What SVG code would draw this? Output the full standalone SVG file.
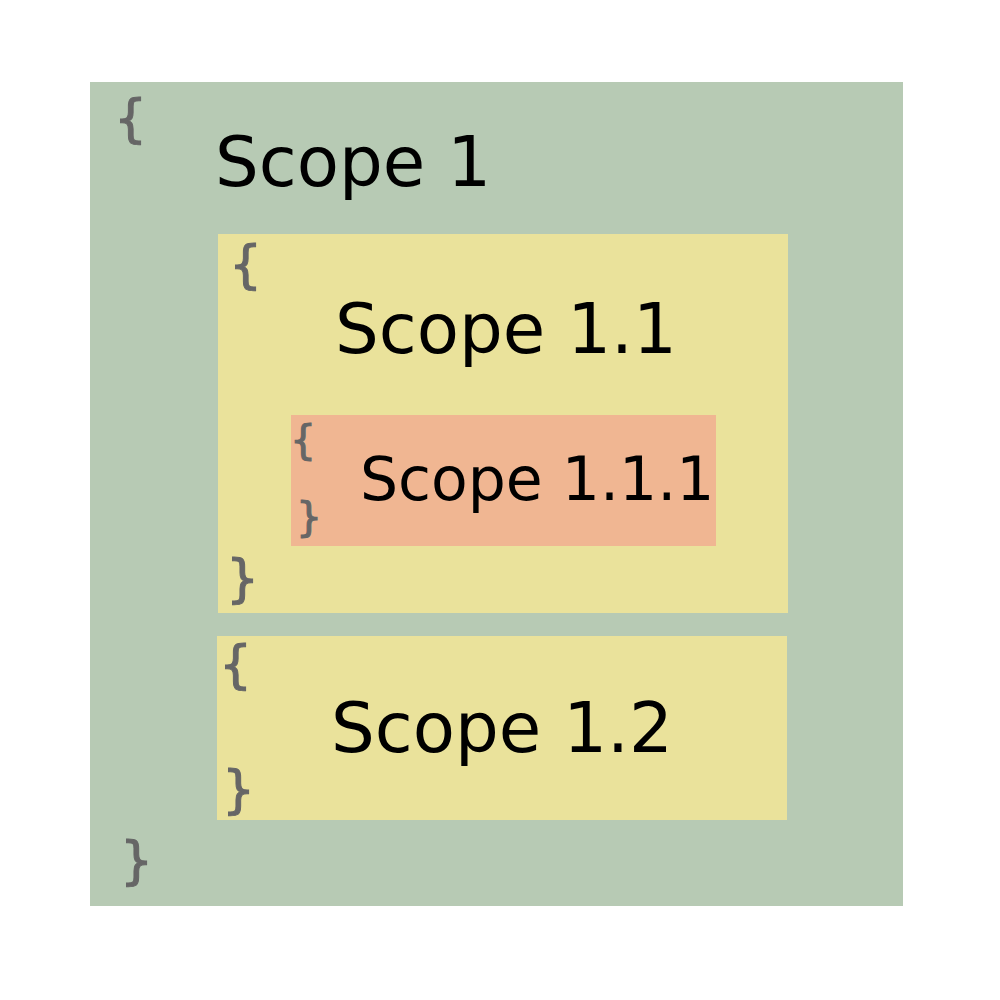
<svg xmlns="http://www.w3.org/2000/svg" width="1000" height="1000" viewBox="0 0 1000 1000">
<style>
.t{font-family:"DejaVu Sans",sans-serif;fill:#000}
.b{font-family:"DejaVu Sans",sans-serif;fill:#666;stroke:#666;stroke-width:1}
</style>
<rect width="1000" height="1000" fill="#fff"/>
<g id="scope1">
<rect x="90" y="82" width="813" height="824" fill="#b7cab4"/>
<text class="b" x="114" y="136" font-size="52">{</text>
<text class="t" x="215" y="186" font-size="69">Scope 1</text>
<text class="b" x="120" y="878" font-size="52">}</text>
</g>
<g id="scope1_1">
<rect x="218" y="234" width="570" height="379" fill="#eae29b"/>
<text class="b" x="229" y="282" font-size="52">{</text>
<text class="t" x="335" y="353" font-size="69">Scope 1.1</text>
<text class="b" x="226" y="596" font-size="52">}</text>
</g>
<g id="scope1_1_1">
<rect x="291" y="415" width="425" height="131" fill="#f0b692"/>
<text class="b" x="290" y="454" font-size="41">{</text>
<text class="t" x="360" y="500" font-size="60">Scope 1.1.1</text>
<text class="b" x="296" y="531" font-size="41">}</text>
</g>
<g id="scope1_2">
<rect x="217" y="636" width="570" height="184" fill="#eae29b"/>
<text class="b" x="219" y="682" font-size="52">{</text>
<text class="t" x="331" y="752" font-size="69">Scope 1.2</text>
<text class="b" x="222" y="807" font-size="52">}</text>
</g>
<g id="connectors"/>
</svg>
